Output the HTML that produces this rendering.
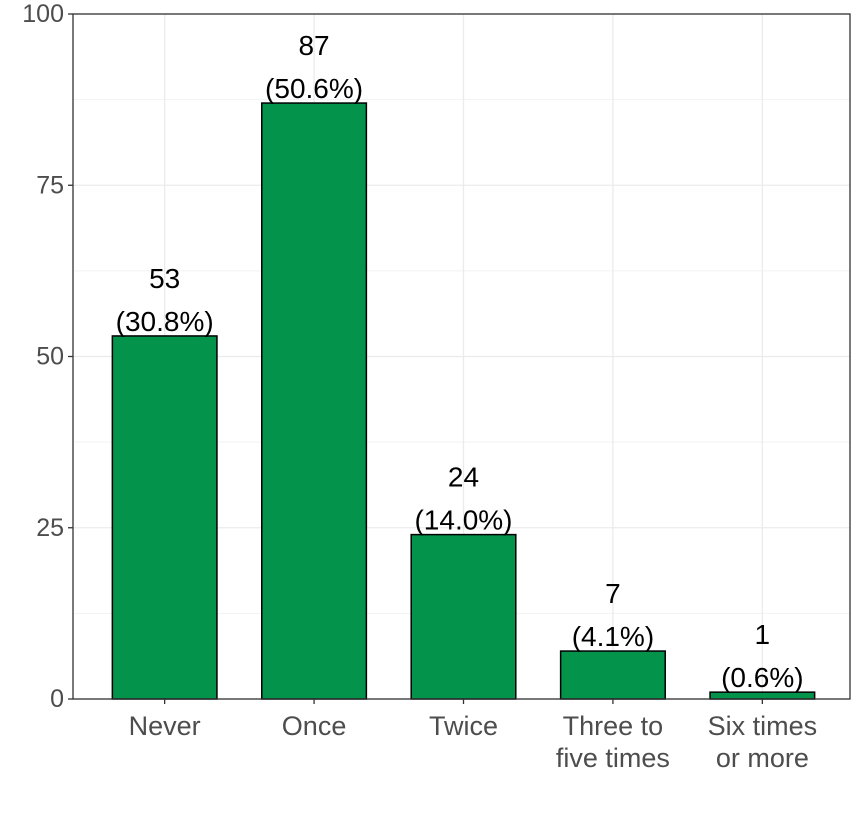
<!DOCTYPE html>
<html><head><meta charset="utf-8"><style>
body{margin:0;background:#fff;}
svg{display:block;font-family:"Liberation Sans",Arial,sans-serif;}
</style></head><body>
<svg id="chart" width="864" height="825"></svg>
<script>
const categories=[["Never"],["Once"],["Twice"],["Three to","five times"],["Six times","or more"]];
const counts=[53,87,24,7,1];
const percents=["30.8%","50.6%","14.0%","4.1%","0.6%"];
const yTicks=[0,25,50,75,100];
const yMinor=[12.5,37.5,62.5,87.5];

const NS="http://www.w3.org/2000/svg";
const svg=document.getElementById('chart');
const L=73,R=850,T=14,B=699;
const yMax=100;
function y(v){return B-(v/yMax)*(B-T);}
const step=(R-L)/(categories.length-1+1.2);
function x(i){return L+2+(0.6+i)*step;}
const bw=step*0.7;
function mk(tag,attrs,parent){const e=document.createElementNS(NS,tag);for(const k in attrs)e.setAttribute(k,attrs[k]);(parent||svg).appendChild(e);return e;}

mk('rect',{x:L,y:T,width:R-L,height:B-T,fill:'#fff'});
yMinor.forEach(v=>{const l=mk('line',{x1:L,x2:R,y1:y(v),y2:y(v),stroke:'#f2f2f2','stroke-width':1});

});
yTicks.forEach(v=>{const l=mk('line',{x1:L,x2:R,y1:y(v),y2:y(v),stroke:'#ebebeb','stroke-width':1.3});

});
categories.forEach((c,i)=>{const l=mk('line',{x1:x(i),x2:x(i),y1:T,y2:B,stroke:'#ebebeb','stroke-width':1.3});

});

counts.forEach((v,i)=>{
 const r=mk('rect',{x:x(i)-bw/2,y:y(v),width:bw,height:B-y(v),fill:'#03934b',stroke:'#000','stroke-width':1.5});
 
 
 const t1=mk('text',{x:x(i),y:y(v)-48,'text-anchor':'middle','font-size':28,fill:'#000'});t1.textContent=v;
 
 
 const t2=mk('text',{x:x(i),y:y(v)-5,'text-anchor':'middle','font-size':28,fill:'#000'});t2.textContent='('+percents[i]+')';
 
 
});

const fr=mk('rect',{x:L,y:T,width:R-L,height:B-T,fill:'none',stroke:'#333','stroke-width':1.3});



yTicks.forEach(v=>{
 mk('line',{x1:L-5,x2:L,y1:y(v),y2:y(v),stroke:'#333','stroke-width':1.3});
 const t=mk('text',{x:L-9,y:y(v)+8,'text-anchor':'end','font-size':25,fill:'#4d4d4d'});t.textContent=v;
 
 
});
categories.forEach((c,i)=>{
 mk('line',{x1:x(i),x2:x(i),y1:B,y2:B+5,stroke:'#333','stroke-width':1.3});
 c.forEach((line,j)=>{
  const t=mk('text',{x:x(i),y:B+36+j*32,'text-anchor':'middle','font-size':27,fill:'#4d4d4d'});t.textContent=line;
  
  
 });
});
</script>
</body></html>
